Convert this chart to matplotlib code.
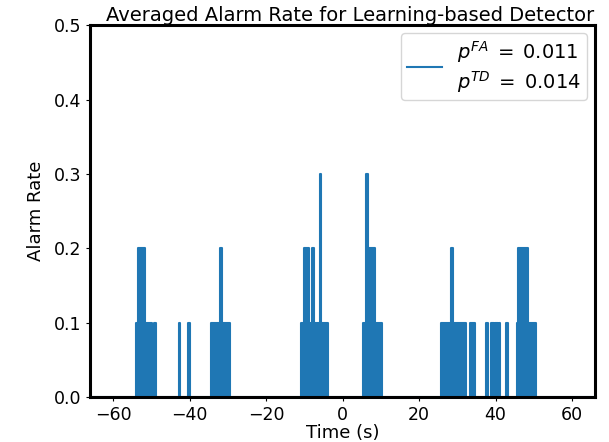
import numpy as np
import matplotlib.pyplot as plt

# times (s) where the alarm rate changes, and the level it holds from then on
change_t = [-54.0, -53.4, -51.7, -49.8, -49.3, -48.9,
            -42.8, -42.4, -40.4, -40.0,
            -34.3, -32.0, -31.5, -29.5,
            -10.8, -10.1, -8.9, -8.0, -7.5, -6.0, -5.6, -3.7,
            5.4, 6.2, 6.6, 8.4, 10.3,
            25.8, 28.4, 28.9, 32.3, 33.3, 34.6,
            37.6, 38.0, 38.8, 39.5, 39.8, 40.6, 40.8, 41.2,
            42.8, 43.2,
            45.5, 46.0, 48.6, 50.6]
change_v = [0.1, 0.2, 0.1, 0.0, 0.1, 0.0,
            0.1, 0.0, 0.1, 0.0,
            0.1, 0.2, 0.1, 0.0,
            0.1, 0.2, 0.1, 0.2, 0.1, 0.3, 0.1, 0.0,
            0.1, 0.3, 0.2, 0.1, 0.0,
            0.1, 0.2, 0.1, 0.0, 0.1, 0.0,
            0.1, 0.0, 0.1, 0.0, 0.1, 0.0, 0.1, 0.0,
            0.1, 0.0,
            0.1, 0.2, 0.1, 0.0]
t_start, t_end = -66, 66

t = np.array([t_start] + change_t + [t_end])
rate = np.array([0.0] + change_v + [0.0])

fig = plt.figure(figsize=(6.09, 4.42), dpi=100)
ax = fig.add_axes([0.148, 0.102, 0.829, 0.841])

ax.fill_between(t, rate, step='post', color='C0', lw=0)
ax.plot(t, rate, drawstyle='steps-post', color='C0', lw=1.5,
        label='$p^{FA} \\;=\\; 0.011$\n$p^{TD} \\;=\\; 0.014$')

ax.set_xlim(t_start, t_end)
ax.set_ylim(0, 0.5)
ax.set_xticks([-60, -40, -20, 0, 20, 40, 60])
ax.set_yticks([0.0, 0.1, 0.2, 0.3, 0.4, 0.5])
ax.tick_params(labelsize=12.5, length=3)
for s in ax.spines.values():
    s.set_linewidth(2.2)
    s.set_color('black')

ax.set_xlabel('Time (s)', fontsize=13, labelpad=0)
ax.set_ylabel('Alarm Rate', fontsize=13, labelpad=6)
ax.set_title('Averaged Alarm Rate for Learning-based Detector', fontsize=14, pad=1, x=0.515)
ax.legend(loc='upper right', fontsize=14, handlelength=1.8,
          labelspacing=0.0, borderaxespad=0.4, borderpad=0.3)

fig.savefig('out.png')
